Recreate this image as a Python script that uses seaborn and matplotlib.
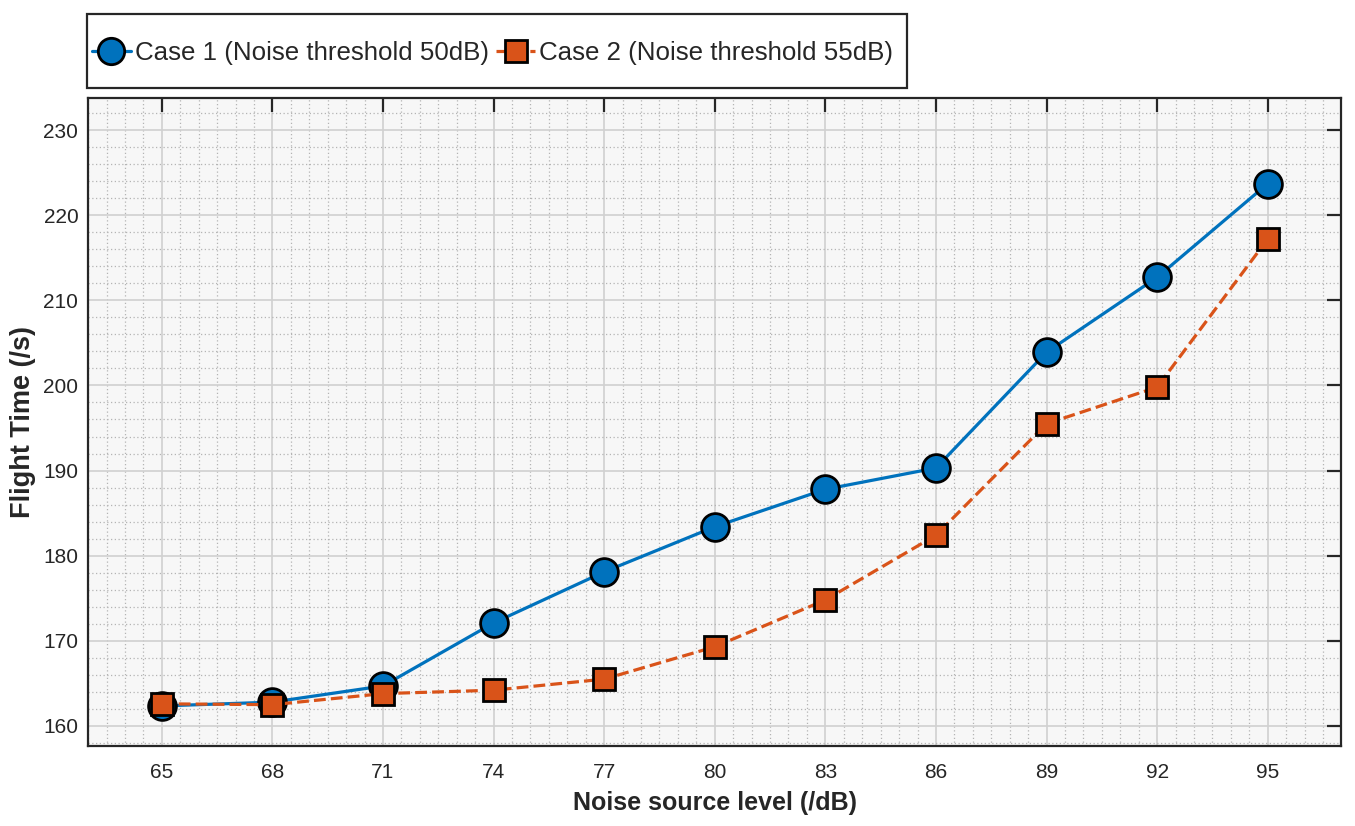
import matplotlib
matplotlib.use("Agg")
import matplotlib.pyplot as plt
import seaborn as sns
import pandas as pd
import numpy as np
from matplotlib.ticker import MultipleLocator
from matplotlib.patches import Rectangle

noise_levels = [65, 68, 71, 74, 77, 80, 83, 86, 89, 92, 95]
case1 = [162.35, 162.8, 164.7, 172.1, 178.1, 183.4, 187.8, 190.3, 203.9, 212.7, 223.7]
case2 = [162.6, 162.5, 163.8, 164.2, 165.5, 169.3, 174.8, 182.4, 195.5, 199.8, 217.2]
series_names = ["Case 1 (Noise threshold 50dB)", "Case 2 (Noise threshold 55dB)"]
y_ticks = [160, 170, 180, 190, 200, 210, 220, 230]

sns.set_theme(style="white")
plt.rcParams['font.family'] = ['Liberation Sans', 'DejaVu Sans']

df = pd.DataFrame({
    "x": noise_levels * 2,
    "y": case1 + case2,
    "case": [series_names[0]] * len(noise_levels) + [series_names[1]] * len(noise_levels),
})

W, H = 1355, 826
fig = plt.figure(figsize=(W / 100, H / 100), dpi=100)
ax = fig.add_axes([0.065, 0.0969, 0.925, 0.7844])
ax.set_facecolor("#f7f7f7")

blue = "#0072BD"
orange = "#D95319"
palette = {series_names[0]: blue, series_names[1]: orange}

for name, mk, ms, dash in [(series_names[0], "o", 20, ""), (series_names[1], "s", 16, (4, 3))]:
    sub = df[df["case"] == name]
    sns.lineplot(data=sub, x="x", y="y", ax=ax, color=palette[name], lw=2.3,
                 marker=mk, markersize=ms, markeredgecolor="black", markeredgewidth=2.0,
                 markerfacecolor=palette[name], label=name,
                 linestyle="--" if dash else "-", dashes=dash if dash else "", legend=False)

ax.set_xlim(63, 97)
ax.set_ylim(157.65, 233.76)
ax.set_xticks(noise_levels)
ax.set_yticks(y_ticks)
ax.xaxis.set_minor_locator(MultipleLocator(0.5))
ax.yaxis.set_minor_locator(MultipleLocator(2))
ax.grid(which="major", color="#d0d0d0", lw=1.2, ls="-")
ax.grid(which="minor", color="#b4b4b4", lw=0.9, ls=(0, (1, 2)))
ax.set_axisbelow(True)
ax.tick_params(which="major", direction="in", length=10, width=1.6, top=True, right=True,
               labelsize=15, colors="#262626")
ax.tick_params(axis="x", which="major", pad=12)
ax.tick_params(axis="y", which="major", pad=7)
ax.tick_params(which="minor", length=0)
for s in ax.spines.values():
    s.set_color("#262626")
    s.set_linewidth(1.6)
    s.set_visible(True)

ax.set_xlabel("Noise source level (/dB)", fontsize=18, fontweight="bold", color="#262626", labelpad=7)
ax.set_ylabel("Flight Time (/s)", fontsize=19.5, fontweight="bold", color="#262626", labelpad=5)

# legend frame (MATLAB-style box)
box_l, box_t, box_r, box_b = 87, 14, 907, 88
fig.patches.append(Rectangle((box_l / W, 1 - box_b / H), (box_r - box_l) / W, (box_b - box_t) / H,
                             transform=fig.transFigure, facecolor="white", edgecolor="#262626",
                             lw=1.6, zorder=0))

handles = ax.get_lines()[:2]
leg = fig.legend(handles=handles, labels=series_names, loc="center left",
                 bbox_to_anchor=(92 / W, 1 - 53 / H), borderaxespad=0, ncol=2,
                 fontsize=18.6, frameon=False,
                 handlelength=1.5, handletextpad=0.15, columnspacing=0.3, borderpad=0,
                 markerscale=0.95)

fig.savefig("out.png", dpi=100)
